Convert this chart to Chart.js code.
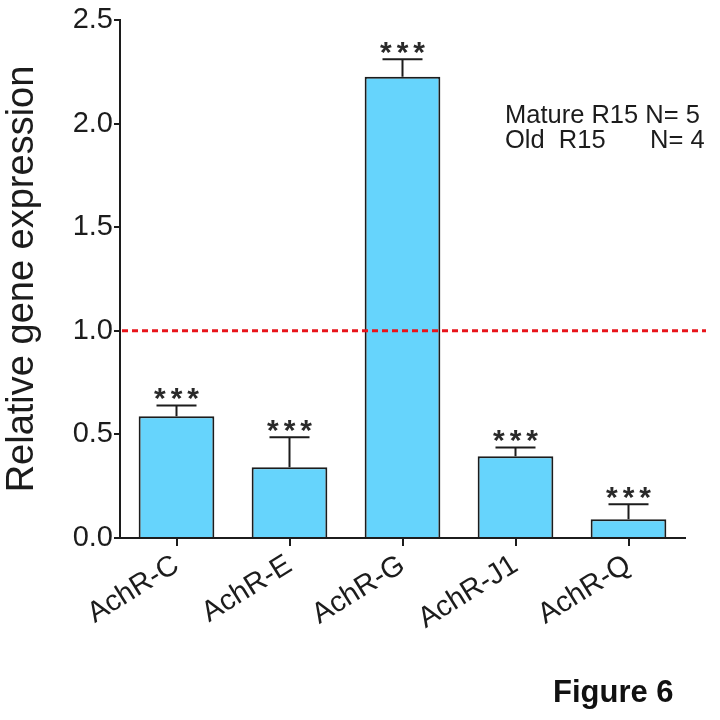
<!DOCTYPE html>
<html>
<head>
<meta charset="utf-8">
<script src="https://cdn.jsdelivr.net/npm/chart.js@4.4.1/dist/chart.umd.min.js"></script>
<style>
  html, body { margin: 0; padding: 0; background: #ffffff; }
  #wrap { width: 720px; height: 720px; position: relative; }
</style>
</head>
<body>
<div id="wrap"><canvas id="c" width="720" height="720"></canvas></div>
<script>
// ---- Data ----
const categories = ['AchR-C', 'AchR-E', 'AchR-G', 'AchR-J1', 'AchR-Q'];
const means = [0.587, 0.341, 2.226, 0.394, 0.091];
const errors = [0.053, 0.145, 0.084, 0.043, 0.072];
const significance = ['***', '***', '***', '***', '***'];
const yTickValues = [0, 0.5, 1.0, 1.5, 2.0, 2.5];
const referenceLevel = 1.0;
const legendLines = [['Mature R15 N= 5', ''], ['Old  R15', 'N= 4']];
const figureLabel = 'Figure 6';

const FONT = '"Liberation Sans", Arial, Helvetica, sans-serif';
const INK = '#1c1c1c';

const overlayPlugin = {
  id: 'overlay',
  afterDatasetsDraw(chart) {
    const ctx = chart.ctx;
    const y = chart.scales.y;
    const meta = chart.getDatasetMeta(0);
    ctx.save();
    // error bars + significance stars
    meta.data.forEach((bar, i) => {
      const x = bar.x;
      const yTop = y.getPixelForValue(means[i]);
      const yErr = y.getPixelForValue(means[i] + errors[i]);
      ctx.strokeStyle = INK;
      ctx.lineWidth = 2;
      ctx.beginPath();
      ctx.moveTo(x, yTop);
      ctx.lineTo(x, yErr);
      ctx.moveTo(x - 20, yErr);
      ctx.lineTo(x + 20, yErr);
      ctx.stroke();
      ctx.fillStyle = '#2a2a2a';
      ctx.font = 'bold 30px ' + FONT;
      ctx.letterSpacing = '5px';
      ctx.textAlign = 'center';
      ctx.textBaseline = 'alphabetic';
      ctx.fillText(significance[i], x + 2.5, yErr + 3);
      ctx.letterSpacing = '0px';
    });
    // reference dashed line
    const yr = y.getPixelForValue(referenceLevel);
    ctx.strokeStyle = '#e8141b';
    ctx.lineWidth = 3;
    ctx.setLineDash([6, 4]);
    ctx.beginPath();
    ctx.moveTo(chart.chartArea.left + 2, yr);
    ctx.lineTo(chart.width - 14, yr);
    ctx.stroke();
    ctx.setLineDash([]);
    // legend text
    ctx.fillStyle = INK;
    ctx.font = '25.5px ' + FONT;
    ctx.textAlign = 'left';
    ctx.textBaseline = 'alphabetic';
    ctx.fillText(legendLines[0][0], 505, 123);
    ctx.fillText(legendLines[1][0], 505, 148);
    ctx.fillText(legendLines[1][1], 650, 148);
    // figure label
    ctx.font = 'bold 31px ' + FONT;
    ctx.fillStyle = '#111';
    ctx.fillText(figureLabel, 553, 702);
    ctx.restore();
  }
};

new Chart(document.getElementById('c'), {
  type: 'bar',
  data: {
    labels: categories,
    datasets: [{
      data: means,
      backgroundColor: '#66d4fc',
      borderColor: INK,
      borderWidth: 2,
      borderSkipped: 'bottom',
      barPercentage: 0.67,
      categoryPercentage: 1.0
    }]
  },
  options: {
    responsive: false,
    animation: false,
    devicePixelRatio: 1,
    layout: { padding: { top: 20, right: 35, bottom: 0, left: 0 } },
    plugins: { legend: { display: false }, tooltip: { enabled: false } },
    scales: {
      x: {
        grid: { display: true, offset: false, drawOnChartArea: false, drawTicks: true, tickLength: 8, color: INK, lineWidth: 2 },
        border: { display: true, color: INK, width: 2 },
        ticks: {
          color: INK,
          font: { family: FONT, size: 29 },
          minRotation: 32, maxRotation: 32,
          padding: 2
        },
        afterFit(scale) { scale.height = 182; }
      },
      y: {
        min: 0, max: 2.5,
        afterBuildTicks(scale) { scale.ticks = yTickValues.map(v => ({ value: v })); },
        grid: { display: true, drawOnChartArea: false, drawTicks: true, tickLength: 6, color: INK, lineWidth: 2 },
        border: { display: true, color: INK, width: 2 },
        ticks: {
          color: INK,
          font: { family: FONT, size: 29 },
          padding: 1,
          callback: v => Number(v).toFixed(1)
        },
        title: {
          display: true,
          text: 'Relative gene expression',
          color: INK,
          font: { family: FONT, size: 38 },
          padding: { top: 0, bottom: 0 }
        },
        afterFit(scale) { scale.width = 120; }
      }
    }
  },
  plugins: [overlayPlugin]
});
</script>
</body>
</html>
